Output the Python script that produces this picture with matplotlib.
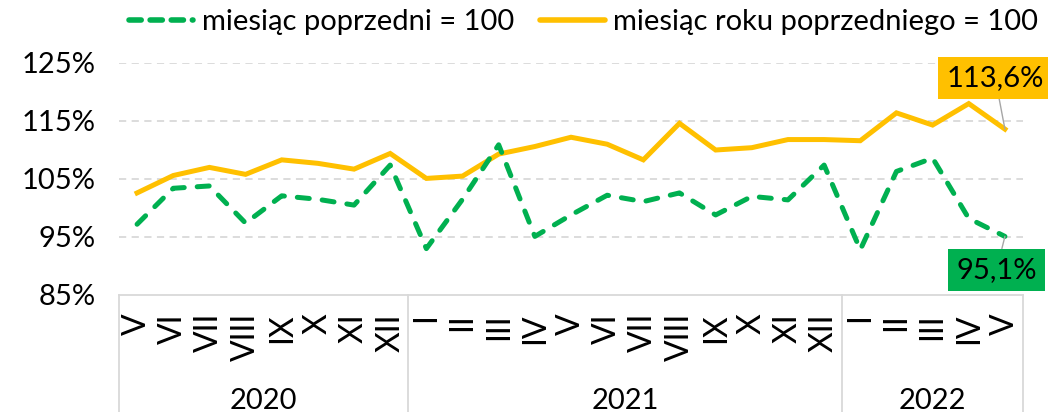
import matplotlib
matplotlib.use("Agg")
import matplotlib.pyplot as plt
from matplotlib.lines import Line2D

plt.rcParams['font.family'] = ['Lato', 'DejaVu Sans']

months = ["V", "VI", "VII", "VIII", "IX", "X", "XI", "XII",
          "I", "II", "III", "IV", "V", "VI", "VII", "VIII", "IX", "X", "XI", "XII",
          "I", "II", "III", "IV", "V"]
years = ["2020", "2021", "2022"]
year_counts = [8, 12, 5]
prev_month = [97.2, 103.4, 103.8, 97.4, 102.1, 101.5, 100.5, 107.4,
              93.0, 101.5, 110.9, 95.1, 98.8, 102.2, 101.1, 102.6,
              98.8, 102.0, 101.4, 107.4, 92.8, 106.3, 108.6, 98.2, 95.1]
prev_year = [102.6, 105.6, 107.0, 105.8, 108.3, 107.7, 106.7, 109.4,
             105.1, 105.5, 109.3, 110.6, 112.2, 111.0, 108.3, 114.6,
             110.0, 110.4, 111.8, 111.8, 111.6, 116.4, 114.3, 118.0, 113.6]
yticks = [85, 95, 105, 115, 125]

GREEN = "#00B050"
YELLOW = "#FFC000"
GRID = "#D9D9D9"
FS = 21

fig = plt.figure(figsize=(10.48, 4.12), dpi=100)
ax = fig.add_axes([119/1048, 1-295/412, (1023-119)/1048, (295-63)/412])

x = list(range(len(months)))
ax.plot(x, prev_year, color=YELLOW, lw=3.6, solid_joinstyle='miter', zorder=3)
ax.plot(x, prev_month, color=GREEN, lw=3.6, dashes=(2.4, 2.6),
        dash_capstyle='round', zorder=3)

ax.set_xlim(-0.5, len(months) - 0.5)
ax.set_ylim(85, 125)
ax.set_yticks(yticks)
ax.set_yticklabels([f"{v}%" for v in yticks], fontsize=FS)
ax.tick_params(axis='y', length=0, pad=17)
for v in yticks[1:]:
    ax.axhline(v, color=GRID, lw=1.3, ls=(0, (4, 3)), zorder=1)

for s in ['left', 'right', 'top']:
    ax.spines[s].set_visible(False)
ax.spines['bottom'].set_color(GRID)
ax.spines['bottom'].set_linewidth(1.3)

ax.set_xticks(x)
ax.set_xticklabels(months, rotation=90, va='top', fontsize=23)
ax.tick_params(axis='x', length=0, pad=13)

# group separators and year labels
trans = ax.get_xaxis_transform()
edges = [-0.5]
for c in year_counts:
    edges.append(edges[-1] + c)
for e in edges:
    ax.plot([e, e], [0, -0.52], transform=trans, color=GRID, lw=1.3, clip_on=False)
for i, yr in enumerate(years):
    ax.text((edges[i] + edges[i+1]) / 2, -0.457, yr, transform=trans,
            ha='center', va='center', fontsize=FS)

# end labels
ax.annotate("113,6%", xy=(x[-1], prev_year[-1]), xytext=(-7, 37),
            textcoords='offset points', ha='center', va='center', fontsize=FS,
            bbox=dict(boxstyle='square,pad=0.28', fc=YELLOW, ec='none'),
            arrowprops=dict(arrowstyle='-', color='#A6A6A6', lw=1, shrinkA=0, shrinkB=0),
            annotation_clip=False, zorder=5)
ax.annotate("95,1%", xy=(x[-1], prev_month[-1]), xytext=(-6, -24),
            textcoords='offset points', ha='center', va='center', fontsize=FS,
            bbox=dict(boxstyle='square,pad=0.28', fc=GREEN, ec='none'),
            arrowprops=dict(arrowstyle='-', color='#A6A6A6', lw=1, shrinkA=0, shrinkB=0),
            annotation_clip=False, zorder=5)

handles = [Line2D([0], [0], color=GREEN, lw=4, dashes=(2.2, 1.6), dash_capstyle='round'),
           Line2D([0], [0], color=YELLOW, lw=4, solid_capstyle='round')]
fig.legend(handles, ["miesiąc poprzedni = 100", "miesiąc roku poprzedniego = 100"],
           loc='center', bbox_to_anchor=(0.557, 1-22/412), ncol=2, frameon=False,
           fontsize=FS, handlelength=2.2, handletextpad=0.3, columnspacing=0.9,
           borderpad=0, borderaxespad=0)

fig.savefig("out.png", dpi=100)
